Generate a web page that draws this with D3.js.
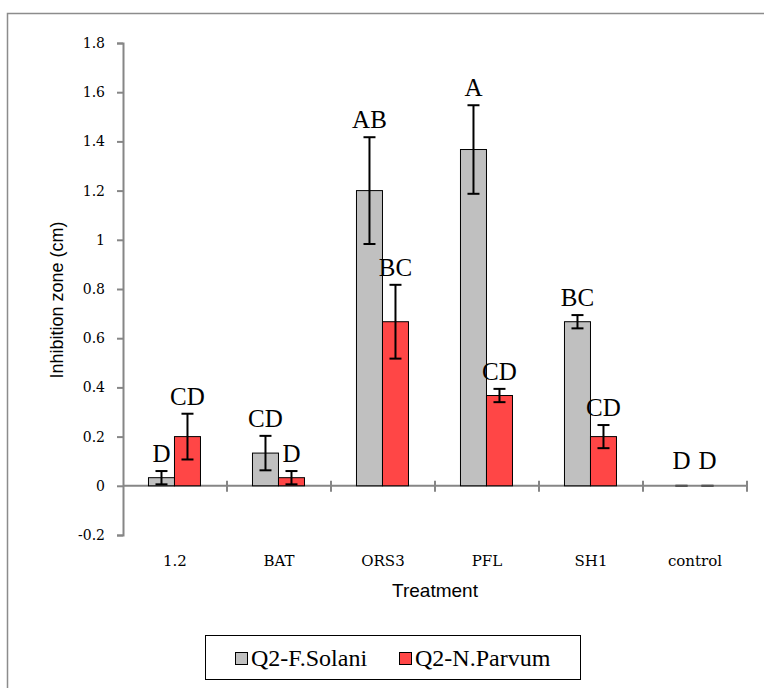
<!DOCTYPE html>
<html>
<head>
<meta charset="utf-8">
<script src="https://cdn.jsdelivr.net/npm/d3@7"></script>
<style>
  body { margin: 0; background: #fff; }
  svg { display: block; }
</style>
</head>
<body>
<div id="chart"></div>
<script>
// chart data
var categories = ['1.2', 'BAT', 'ORS3', 'PFL', 'SH1', 'control'];
var seriesNames = ['Q2-F.Solani', 'Q2-N.Parvum'];
var solaniValues = [0.033, 0.133, 1.2, 1.367, 0.667, 0];
var solaniErrors = [0.027, 0.07, 0.217, 0.18, 0.027, 0];
var parvumValues = [0.2, 0.033, 0.667, 0.367, 0.2, 0];
var parvumErrors = [0.093, 0.027, 0.15, 0.027, 0.047, 0];
var solaniLetters = ['D', 'CD', 'AB', 'A', 'BC', 'D'];
var parvumLetters = ['CD', 'D', 'BC', 'CD', 'CD', 'D'];
var yTicks = [-0.2, 0, 0.2, 0.4, 0.6, 0.8, 1, 1.2, 1.4, 1.6, 1.8];
var colors = ['#c0c0c0', '#ff4646'];

var width = 764, height = 688;
var serif = '"Liberation Serif", "DejaVu Serif", serif';
var wideSerif = '"DejaVu Serif", serif';
var sans = '"Liberation Sans", Arial, sans-serif';

var svg = d3.select('#chart').append('svg')
	.attr('width', width).attr('height', height);

// outer chart border
svg.append('rect')
	.attr('x', 7.5).attr('y', 13.5)
	.attr('width', 800).attr('height', 700)
	.attr('fill', 'none').attr('stroke', '#8c8c8c').attr('stroke-width', 1.5);

var y = d3.scaleLinear().domain([-0.2, 1.8]).range([535, 43]);
var x = d3.scaleBand().domain(categories).range([123, 747]);
var xs = d3.scaleBand().domain(seriesNames)
	.range([x.bandwidth() * 0.245, x.bandwidth() * 0.745]);

// y axis
var yAxis = svg.append('g')
	.attr('transform', 'translate(123,0)')
	.call(d3.axisLeft(y).tickValues(yTicks).tickSize(6).tickPadding(12)
		.tickFormat(function(d) { return String(+d.toFixed(1)); }));
yAxis.select('.domain').attr('stroke', '#868686').attr('stroke-width', 2);
yAxis.selectAll('.tick line').attr('stroke', '#868686').attr('stroke-width', 2);
yAxis.selectAll('.tick text')
	.style('font-family', wideSerif).style('font-size', '14px').attr('fill', '#000');

// x axis line at zero
svg.append('line')
	.attr('x1', 123).attr('x2', 747)
	.attr('y1', y(0)).attr('y2', y(0))
	.attr('stroke', '#868686').attr('stroke-width', 2);

// category boundary ticks
var bounds = categories.map(function(c) { return x(c); }).concat([x.range()[1]]);
svg.selectAll('.ctick').data(bounds.slice(1))
	.enter().append('line')
	.attr('class', 'ctick')
	.attr('x1', function(d) { return d; }).attr('x2', function(d) { return d; })
	.attr('y1', y(0) - 5).attr('y2', y(0) + 6)
	.attr('stroke', '#868686').attr('stroke-width', 2);

// category labels
svg.selectAll('.clabel').data(categories)
	.enter().append('text')
	.attr('class', 'clabel')
	.attr('x', function(d) { return x(d) + x.bandwidth() / 2; })
	.attr('y', 566)
	.attr('text-anchor', 'middle')
	.style('font-family', wideSerif).style('font-size', '15px')
	.text(function(d) { return d; });

var rows = [];
categories.forEach(function(c, i) {
	rows.push({ cat: c, s: 0, v: solaniValues[i], e: solaniErrors[i], l: solaniLetters[i] });
	rows.push({ cat: c, s: 1, v: parvumValues[i], e: parvumErrors[i], l: parvumLetters[i] });
});

function cx(d) { return x(d.cat) + xs(seriesNames[d.s]) + xs.bandwidth() / 2; }

// bars
svg.selectAll('.bar').data(rows.filter(function(d) { return d.v > 0; }))
	.enter().append('rect')
	.attr('class', 'bar')
	.attr('x', function(d) { return x(d.cat) + xs(seriesNames[d.s]); })
	.attr('y', function(d) { return y(d.v); })
	.attr('width', xs.bandwidth())
	.attr('height', function(d) { return y(0) - y(d.v); })
	.attr('fill', function(d) { return colors[d.s]; })
	.attr('stroke', '#000').attr('stroke-width', 1);

// error bars
var eb = svg.selectAll('.err').data(rows).enter().append('g').attr('class', 'err');
eb.append('line')
	.attr('x1', cx).attr('x2', cx)
	.attr('y1', function(d) { return y(d.v + d.e); })
	.attr('y2', function(d) { return y(d.v - d.e); })
	.attr('stroke', '#000').attr('stroke-width', 2);
eb.append('line')
	.attr('x1', function(d) { return cx(d) - 6; }).attr('x2', function(d) { return cx(d) + 6; })
	.attr('y1', function(d) { return y(d.v + d.e); })
	.attr('y2', function(d) { return y(d.v + d.e); })
	.attr('stroke', function(d) { return d.e > 0 ? '#000' : '#555'; }).attr('stroke-width', 2);
eb.append('line')
	.attr('x1', function(d) { return cx(d) - 6; }).attr('x2', function(d) { return cx(d) + 6; })
	.attr('y1', function(d) { return y(d.v - d.e); })
	.attr('y2', function(d) { return y(d.v - d.e); })
	.attr('stroke', function(d) { return d.e > 0 ? '#000' : '#555'; }).attr('stroke-width', 2);

// significance letters
svg.selectAll('.letter').data(rows)
	.enter().append('text')
	.attr('class', 'letter')
	.attr('x', cx)
	.attr('y', function(d) { return y(d.v + d.e) - (d.e > 0 ? 9 : 17); })
	.attr('text-anchor', 'middle')
	.style('font-family', serif).style('font-size', '25px')
	.text(function(d) { return d.l; });

// axis titles
svg.append('text')
	.attr('transform', 'translate(63,' + 300 + ') rotate(-90)')
	.attr('text-anchor', 'middle')
	.style('font-family', sans).style('font-size', '18px')
	.text('Inhibition zone (cm)');
svg.append('text')
	.attr('x', 435).attr('y', 597)
	.attr('text-anchor', 'middle')
	.style('font-family', sans).style('font-size', '19px')
	.text('Treatment');

// legend
var legend = svg.append('g');
legend.append('rect')
	.attr('x', 205.5).attr('y', 635.5).attr('width', 375).attr('height', 44)
	.attr('fill', '#fff').attr('stroke', '#000').attr('stroke-width', 1);
var li = legend.selectAll('.li').data(seriesNames)
	.enter().append('g')
	.attr('transform', function(d, i) { return 'translate(' + [235, 399][i] + ',652)'; });
li.append('rect')
	.attr('x', 0.5).attr('y', 0.5).attr('width', 12).attr('height', 12)
	.attr('fill', function(d, i) { return colors[i]; })
	.attr('stroke', '#000').attr('stroke-width', 1);
li.append('text')
	.attr('x', 16).attr('y', 14)
	.style('font-family', serif).style('font-size', '24px')
	.text(function(d) { return d; });
</script>
</body>
</html>
